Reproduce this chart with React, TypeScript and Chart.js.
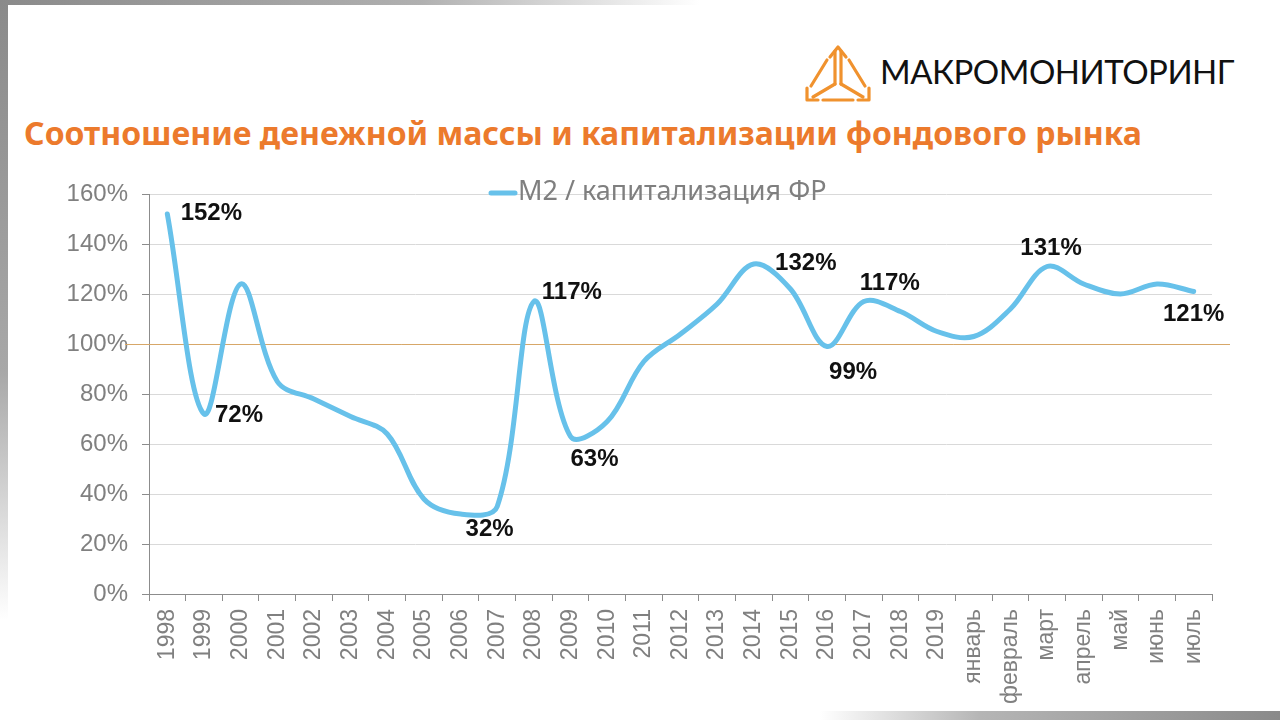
import React, { useEffect, useRef } from 'react';
import { Chart, registerables } from 'chart.js';

Chart.register(...registerables);

// ---------- data ----------
const categories = [
  '1998', '1999', '2000', '2001', '2002', '2003', '2004', '2005', '2006', '2007',
  '2008', '2009', '2010', '2011', '2012', '2013', '2014', '2015', '2016', '2017',
  '2018', '2019', 'январь', 'февраль', 'март', 'апрель', 'май', 'июнь', 'июль',
];
const ratioValues = [
  152, 72, 124, 85, 78, 71, 64, 38, 32, 35,
  117, 63, 69, 93, 104, 116, 132, 122, 99, 117,
  113, 105, 103, 114, 131, 124, 120, 124, 121,
];
const seriesName = 'М2 / капитализация ФР';
const titleText = 'Соотношение денежной массы и капитализации фондового рынка';
const brandText = 'МАКРОМОНИТОРИНГ';
const yMin = 0;
const yMax = 160;
const yStep = 20;
const referenceValue = 100;
const labeledIndices = [0, 1, 8, 10, 11, 16, 18, 19, 24, 28];

// label placement (style): offsets of label centre from the point, px
const labelOffsets: Record<number, [number, number]> = {
  0: [44, -1],
  1: [35, 1],
  8: [29, 15],
  10: [38, -9],
  11: [24, 23],
  16: [52, -1],
  18: [26, 26],
  19: [26, -18],
  24: [4, -18],
  28: [0, 23],
};

const LINE_COLOR = '#67c1ea';
const AXIS_COLOR = '#8c8c8c';
const TICK_TEXT = '#808080';

const overlayPlugin = {
  id: 'overlay',
  beforeDatasetsDraw(chart: any) {
    const { ctx } = chart;
    const y = chart.scales.y.getPixelForValue(referenceValue);
    ctx.save();
    ctx.strokeStyle = '#d7a768';
    ctx.lineWidth = 1;
    ctx.beginPath();
    ctx.moveTo(125, Math.round(y) + 0.5);
    ctx.lineTo(1230, Math.round(y) + 0.5);
    ctx.stroke();
    ctx.restore();
  },
  afterDatasetsDraw(chart: any) {
    const { ctx } = chart;
    const meta = chart.getDatasetMeta(0);
    ctx.save();
    // legend
    const ly = 193;
    ctx.strokeStyle = LINE_COLOR;
    ctx.lineWidth = 5;
    ctx.lineCap = 'round';
    ctx.beginPath();
    ctx.moveTo(491, ly);
    ctx.lineTo(515, ly);
    ctx.stroke();
    ctx.fillStyle = '#7f7f7f';
    ctx.font = '27px "Noto Sans", sans-serif';
    ctx.textAlign = 'left';
    ctx.textBaseline = 'middle';
    ctx.fillText(seriesName, 518, ly - 1);

    // data labels
    ctx.fillStyle = '#111111';
    ctx.font = 'bold 24px "Liberation Sans", Arial, sans-serif';
    ctx.textAlign = 'center';
    ctx.textBaseline = 'middle';
    labeledIndices.forEach((i) => {
      const pt = meta.data[i];
      const [dx, dy] = labelOffsets[i] || [0, 0];
      ctx.fillText(`${ratioValues[i]}%`, pt.x + dx, pt.y + dy);
    });
    ctx.restore();
  },
};

function Logo() {
  const c = '#f0922e';
  return (
    <svg width="70" height="62" viewBox="0 0 70 62" style={{ position: 'absolute', left: 803, top: 42 }}>
      <g fill="none" stroke={c} strokeWidth="3.2" strokeLinecap="round" strokeLinejoin="round">
        <line x1="32" y1="42" x2="32" y2="9" />
        <line x1="38" y1="42" x2="38" y2="9" />
        <polyline points="27,15 35,5 43,15" />
        <line x1="24" y1="18" x2="8" y2="44" />
        <line x1="46" y1="18" x2="62" y2="44" />
        <line x1="32" y1="42" x2="10" y2="55" />
        <line x1="38" y1="42" x2="60" y2="55" />
        <polyline points="4,46 4,58 15,58" />
        <polyline points="66,46 66,58 55,58" />
        <line x1="20" y1="58" x2="50" y2="58" />
      </g>
    </svg>
  );
}

export default function App() {
  const canvasRef = useRef<HTMLCanvasElement | null>(null);

  useEffect(() => {
    document.body.style.margin = '0';
    const canvas = canvasRef.current;
    if (!canvas) return;
    const chart = new Chart(canvas, {
      type: 'line',
      data: {
        labels: categories,
        datasets: [
          {
            label: seriesName,
            data: ratioValues,
            borderColor: LINE_COLOR,
            backgroundColor: LINE_COLOR,
            borderWidth: 5,
            pointRadius: 0,
            pointHoverRadius: 0,
            tension: 0.35,
            borderCapStyle: 'round',
            borderJoinStyle: 'round',
            fill: false,
          },
        ],
      },
      options: {
        animation: false,
        responsive: true,
        maintainAspectRatio: false,
        events: [],
        layout: { padding: { top: 194, right: 68, left: 0, bottom: 0 } },
        plugins: {
          legend: { display: false },
          tooltip: { enabled: false },
          title: { display: false },
        },
        scales: {
          x: {
            type: 'category',
            offset: true,
            grid: {
              offset: true,
              drawOnChartArea: false,
              drawTicks: true,
              tickLength: 7,
              color: AXIS_COLOR,
              tickColor: AXIS_COLOR,
            },
            border: { display: true, color: AXIS_COLOR, width: 1 },
            ticks: {
              autoSkip: false,
              minRotation: 90,
              maxRotation: 90,
              padding: 8,
              color: TICK_TEXT,
              font: { size: 23, family: '"Liberation Sans", Arial, sans-serif' },
            },
            afterFit: (s: any) => {
              s.height = 126;
            },
          },
          y: {
            min: yMin,
            max: yMax,
            ticks: {
              stepSize: yStep,
              padding: 14,
              color: TICK_TEXT,
              font: { size: 24, family: '"Liberation Sans", Arial, sans-serif' },
              callback: (v: any) => `${v}%`,
            },
            grid: {
              color: '#d9d9d9',
              tickColor: AXIS_COLOR,
              tickLength: 7,
              drawTicks: true,
            },
            border: { display: true, color: AXIS_COLOR, width: 1 },
            afterFit: (s: any) => {
              s.width = 149;
            },
          },
        },
      },
      plugins: [overlayPlugin],
    } as any);
    return () => chart.destroy();
  }, []);

  return (
    <div
      style={{
        position: 'absolute',
        left: 0,
        top: 0,
        width: 1280,
        height: 720,
        background: '#ffffff',
        overflow: 'hidden',
      }}
    >
      {/* decorative frame edges */}
      <div
        style={{
          position: 'absolute', left: 0, top: 0, width: 8, height: 620,
          background: 'linear-gradient(to bottom, #8a8a8a 0%, #a8a8a8 60%, rgba(255,255,255,0) 100%)',
        }}
      />
      <div
        style={{
          position: 'absolute', left: 0, top: 0, width: 700, height: 5,
          background: 'linear-gradient(to right, #8a8a8a 0%, #b0b0b0 60%, rgba(255,255,255,0) 100%)',
        }}
      />
      <div
        style={{
          position: 'absolute', left: 820, top: 711, width: 460, height: 9,
          background: 'linear-gradient(to right, rgba(255,255,255,0) 0%, #b5b5b5 35%, #8a8a8a 100%)',
        }}
      />
      <Logo />
      <div
        style={{
          position: 'absolute', left: 880, top: 55, fontFamily: 'Lato, sans-serif', fontSize: 33,
          lineHeight: '33px', color: '#111', whiteSpace: 'nowrap', letterSpacing: -0.5,
        }}
      >
        {brandText}
      </div>
      <div
        style={{
          position: 'absolute', left: 24, top: 117, fontFamily: '"Noto Sans", sans-serif', fontWeight: 700,
          fontSize: 32, lineHeight: '32px', color: '#ec7a2c', whiteSpace: 'nowrap',
        }}
      >
        {titleText}
      </div>
      <canvas
        ref={canvasRef}
        style={{ position: 'absolute', left: 0, top: 0, width: 1280, height: 720 }}
      />
    </div>
  );
}
